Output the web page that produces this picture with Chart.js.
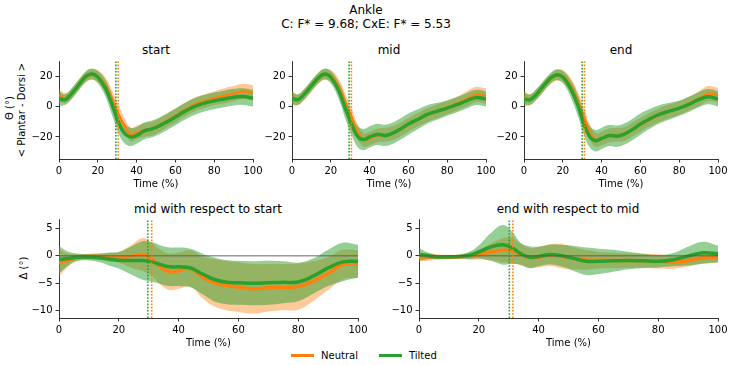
<!DOCTYPE html>
<html>
<head>
<meta charset="utf-8">
<script src="https://cdn.jsdelivr.net/npm/chart.js@4.4.0/dist/chart.umd.min.js"></script>
<style>
  body { margin: 0; width: 732px; height: 365px; background: #fff; position: relative; overflow: hidden;
         font-family: "DejaVu Sans", sans-serif; color: #000; }
  canvas { position: absolute; }
  .t { position: absolute; white-space: nowrap; transform: translate(-50%, -50%); font-size: 12px; line-height: 1; }
  .yl { position: absolute; white-space: nowrap; transform: translate(-50%, -50%) rotate(-90deg); font-size: 10px; line-height: 1; }
  .lg { position: absolute; height: 3px; width: 23px; }
  .lt { position: absolute; font-size: 10px; line-height: 1; transform: translateY(-50%); }
</style>
</head>
<body>
<div class="t" style="left:366px;top:10px">Ankle</div>
<div class="t" style="left:366px;top:24px">C: F* = 9.68; CxE: F* = 5.53</div>
<div class="t" style="left:156px;top:50px">start</div>
<div class="t" style="left:389px;top:50px">mid</div>
<div class="t" style="left:621px;top:50px">end</div>
<div class="t" style="left:208px;top:209px">mid with respect to start</div>
<div class="t" style="left:568px;top:209px">end with respect to mid</div>
<div class="yl" style="left:10px;top:108px">Θ (°)</div>
<div class="yl" style="left:22px;top:110px">&lt; Plantar - Dorsi &gt;</div>
<div class="yl" style="left:24px;top:268px">Δ (°)</div>
<div class="lg" style="left:291px;top:354px;background:#ff7f0e"></div>
<div class="lt" style="left:321px;top:356px">Neutral</div>
<div class="lg" style="left:379px;top:354px;background:#2ca02c"></div>
<div class="lt" style="left:409px;top:356px">Tilted</div>
<script>
// gait cycle (%) sample points
const time = [0, 3, 6, 10, 14, 17, 20, 24, 28, 31, 34, 37, 40, 44, 48, 52, 56, 60, 65, 70, 75, 80, 85, 90, 95, 100];

// ankle angle, mean and sd per session
const startNeutral   = [7.5, 5.5, 7.8, 14, 19.5, 21, 20, 14, 3, -6, -13, -18.5, -17, -15.5, -14.5, -12, -9, -6, -2, 1.5, 3.5, 5.5, 7, 8.5, 10, 9];
const startNeutralSd = [4, 3.5, 3.5, 3.5, 3.5, 3.5, 4, 5, 6, 6, 5, 4.5, 4.5, 4.5, 4.5, 4.5, 4.5, 4.5, 4.5, 4.5, 4.5, 4.5, 5, 5, 5, 5];
const startTilted    = [5.5, 4.5, 7.7, 14, 20, 21.5, 19.4, 12, -1, -11.5, -18, -20, -19, -16, -14.7, -12.5, -9.8, -6.8, -3, 0.2, 2.3, 3.8, 5, 6.2, 6.6, 5.5];
const startTiltedSd  = [5, 3.5, 3.5, 3.5, 3.5, 3.5, 4, 5.5, 7, 7, 6.5, 6, 5.5, 5.5, 5.5, 5.5, 5.5, 5.5, 5.5, 5.5, 5.5, 5.5, 5.5, 5.5, 5.5, 5.5];

const midNeutral   = [6, 4.5, 7.5, 13.5, 19, 21, 20, 13.5, 1, -8, -17, -22, -21, -19, -18.5, -17.5, -15, -12, -8.5, -5.5, -3, -0.5, 2, 5, 8, 7];
const midNeutralSd = [4, 3.5, 3.5, 3.5, 3.5, 3.5, 4, 5, 6, 6, 5, 4.5, 4.5, 4.5, 4.5, 4.5, 4.5, 4.5, 4.5, 4.5, 4.5, 4.5, 4.5, 5, 5, 5];
const midTilted    = [5.5, 4.5, 7.7, 13.6, 19.4, 21.5, 19.4, 10.8, -3, -12.5, -20, -21.7, -20, -18.3, -19, -17.4, -14.7, -11.5, -8.3, -5, -3, -1, 1.3, 3.8, 6, 5];
const midTiltedSd  = [4.5, 3.5, 3.5, 3.5, 3.5, 3.5, 4, 5.5, 7, 7, 7, 7, 7, 7, 7, 7, 7, 7, 6.5, 6, 5.5, 5, 5, 5, 5, 5];

const endNeutral   = [6, 4.5, 7.5, 13, 18.5, 20.5, 20, 14, 3, -7, -17, -22, -21, -19, -18.5, -18, -15, -12, -8.5, -5.5, -3, -1, 2, 5, 8.5, 7.5];
const endNeutralSd = [4, 3.5, 3.5, 3.5, 3.5, 3.5, 4, 5, 6, 6, 5, 4.5, 4.5, 4.5, 4.5, 4.5, 4.5, 4.5, 4.5, 4.5, 4.5, 4.5, 4.5, 5, 5, 5];
const endTilted    = [5, 4.5, 7.5, 13.5, 19, 21, 19.5, 12, 0, -12, -20, -22.5, -21, -19, -19.5, -18, -15, -11.5, -8, -5, -3, -1, 1.5, 4.5, 6.5, 5];
const endTiltedSd  = [4.5, 3.5, 3.5, 3.5, 3.5, 3.5, 4, 5.5, 7, 7, 7, 7, 7, 7, 7, 7, 7, 7, 6.5, 6, 5.5, 5, 5, 5, 5, 5];

// differences between sessions
const midStartNeutral   = [-1.3, -0.8, -0.3, -0.1, -0.1, -0.25, -0.25, -0.1, 0.25, -0.6, -2.1, -2.9, -2.7, -2.3, -3.9, -4.9, -5.4, -5.7, -6, -5.8, -5.7, -5.6, -4.6, -3.2, -1.6, -1.5];
const midStartNeutralSd = [2.5, 1.2, 0.6, 0.5, 0.6, 0.8, 1, 2, 3, 3, 3.2, 3.3, 3.3, 3.3, 3.8, 4.3, 4.5, 4.5, 4.5, 4.3, 4.2, 4.2, 3.6, 3, 2.7, 2.5];
const midStartTilted    = [-0.7, -0.5, -0.25, -0.25, -0.4, -0.6, -0.8, -0.85, -0.85, -1.1, -1.6, -2, -2, -2.2, -3.3, -4.3, -4.8, -4.9, -5, -4.9, -4.8, -4.75, -3.7, -2.2, -1.1, -1];
const midStartTiltedSd  = [2.5, 1.3, 0.7, 0.6, 0.8, 1.2, 1.5, 2.5, 3.5, 3.6, 3.5, 3.5, 3.5, 3.5, 3.7, 4, 4, 4, 4, 4, 3.8, 3.5, 3.2, 3.3, 3.5, 3];

const endMidNeutral   = [-0.25, -0.2, -0.2, -0.2, -0.15, -0.05, 0.25, 0.7, 1, 1, 0.25, -0.35, -0.25, 0.1, -0.1, -0.5, -0.75, -0.8, -0.85, -0.85, -0.9, -1, -1.15, -0.85, -0.35, -0.25];
const endMidNeutralSd = [0.8, 0.7, 0.5, 0.4, 0.4, 0.6, 0.9, 1.5, 2.2, 2.3, 2, 1.8, 1.8, 2, 2.2, 2, 1.8, 1.5, 1.4, 1.3, 1.3, 1.3, 1.2, 1.1, 1, 1];
const endMidTilted    = [0.25, 0, -0.2, -0.2, -0.1, 0.1, 0.7, 1.6, 2, 1.5, 0.4, -0.25, -0.1, 0.25, 0, -0.5, -1, -1, -0.9, -0.85, -0.9, -1, -0.7, -0.05, 0.55, 0.35];
const endMidTiltedSd  = [1.2, 0.6, 0.3, 0.3, 0.4, 0.7, 1.2, 2.5, 3.6, 3, 2, 2, 1.8, 1.8, 2, 2.3, 2.5, 2.3, 2, 1.6, 1.3, 1.1, 1.2, 1.7, 2, 1.5];

// toe-off events (% cycle), one per panel
const neutralEvent = [30.5, 30.6, 31.2, 31, 31.4];
const tiltedEvent  = [29.3, 29.4, 30, 29.7, 30.2];

const topTicks = [-20, 0, 20];
const diffTicks = [-10, -5, 0, 5];

const ORANGE = "#ff7f0e", GREEN = "#2ca02c";

// box = axes area [left, top, right, bottom] in page pixels
const panels = [
    { box: [59, 61, 253, 159],  yMin: -34.5, yMax: 30,  ticks: topTicks,  n: startNeutral, nSd: startNeutralSd, t: startTilted, tSd: startTiltedSd, nw: 2.5, zero: false },
    { box: [292, 61, 486, 159], yMin: -34.5, yMax: 30,  ticks: topTicks,  n: midNeutral, nSd: midNeutralSd, t: midTilted, tSd: midTiltedSd, nw: 2.5, zero: false },
    { box: [524, 61, 718, 159], yMin: -34.5, yMax: 30,  ticks: topTicks,  n: endNeutral, nSd: endNeutralSd, t: endTilted, tSd: endTiltedSd, nw: 2.5, zero: false },
    { box: [59, 219, 358, 318], yMin: -11.3, yMax: 6.7, ticks: diffTicks, n: midStartNeutral, nSd: midStartNeutralSd, t: midStartTilted, tSd: midStartTiltedSd, nw: 3.5, zero: true },
    { box: [419, 219, 718, 318], yMin: -11.3, yMax: 6.7, ticks: diffTicks, n: endMidNeutral, nSd: endMidNeutralSd, t: endMidTilted, tSd: endMidTiltedSd, nw: 3.5, zero: true }
];

function makePanel(p, idx) {
    const padL = 45, padT = 8, padR = 16, padB = 36;
    const w = p.box[2] - p.box[0], h = p.box[3] - p.box[1];
    const cv = document.createElement("canvas");
    cv.width = w + padL + padR;
    cv.height = h + padT + padB;
    cv.style.left = (p.box[0] - padL) + "px";
    cv.style.top = (p.box[1] - padT) + "px";
    document.body.appendChild(cv);

    const edge = (m, s, k) => time.map((x, i) => ({ x, y: m[i] + k * s[i] }));
    const mean = (m) => time.map((x, i) => ({ x, y: m[i] }));
    const vline = (x) => [{ x, y: p.yMin }, { x, y: p.yMax }];
    const band = { borderColor: "transparent", borderWidth: 0, pointRadius: 0, tension: 0.4 };

    const datasets = [
        { ...band, data: edge(p.n, p.nSd, 1), fill: false, order: 9 },
        { ...band, data: edge(p.n, p.nSd, -1), fill: "-1", backgroundColor: "rgba(255,127,14,0.42)", order: 9 },
        { ...band, data: edge(p.t, p.tSd, 1), fill: false, order: 8 },
        { ...band, data: edge(p.t, p.tSd, -1), fill: "-1", backgroundColor: "rgba(44,160,44,0.5)", order: 8 },
        { data: mean(p.n), borderColor: ORANGE, borderWidth: p.nw, pointRadius: 0, tension: 0.4, fill: false, order: 6 },
        { data: mean(p.t), borderColor: GREEN, borderWidth: 3.5, pointRadius: 0, tension: 0.4, fill: false, order: 5 },
        { data: vline(tiltedEvent[idx]), borderColor: GREEN, borderWidth: 1.6, borderDash: [1.6, 1.6], pointRadius: 0, fill: false, order: 2 },
        { data: vline(neutralEvent[idx]), borderColor: ORANGE, borderWidth: 1.6, borderDash: [1.6, 1.6], pointRadius: 0, fill: false, order: 1 }
    ];
    if (p.zero) {
        datasets.push({ data: [{ x: 0, y: 0 }, { x: 100, y: 0 }], borderColor: "#555", borderWidth: 0.9, pointRadius: 0, fill: false, order: 4 });
    }

    const font = { family: "DejaVu Sans", size: 10 };
    const axisStyle = {
        grid: { drawOnChartArea: false, tickLength: 3.5, color: "#000", lineWidth: 0.8 },
        border: { color: "#000", width: 0.8 }
    };
    const noPad = (s) => { s.paddingLeft = 0; s.paddingRight = 0; s.paddingTop = 0; s.paddingBottom = 0; };

    new Chart(cv.getContext("2d"), {
        type: "line",
        data: { datasets },
        options: {
            responsive: false,
            animation: false,
            layout: { padding: { left: 0, top: padT, right: padR, bottom: 0 } },
            plugins: { legend: { display: false }, tooltip: { enabled: false } },
            elements: { line: { capBezierPoints: true } },
            scales: {
                x: {
                    type: "linear", min: 0, max: 100,
                    ...axisStyle,
                    ticks: { stepSize: 20, font, color: "#000", padding: 3, maxRotation: 0 },
                    title: { display: true, text: "Time (%)", font, color: "#000", padding: { top: 0, bottom: 5 } },
                    afterFit: (s) => { s.height = padB; noPad(s); }
                },
                y: {
                    type: "linear", min: p.yMin, max: p.yMax,
                    ...axisStyle,
                    ticks: { font, color: "#000", padding: 3, callback: (v) => String(v).replace("-", "\u2212") },
                    afterBuildTicks: (s) => { s.ticks = p.ticks.map((v) => ({ value: v })); },
                    afterFit: (s) => { s.width = padL; noPad(s); }
                }
            }
        }
    });
}

panels.forEach(makePanel);
</script>
</body>
</html>
